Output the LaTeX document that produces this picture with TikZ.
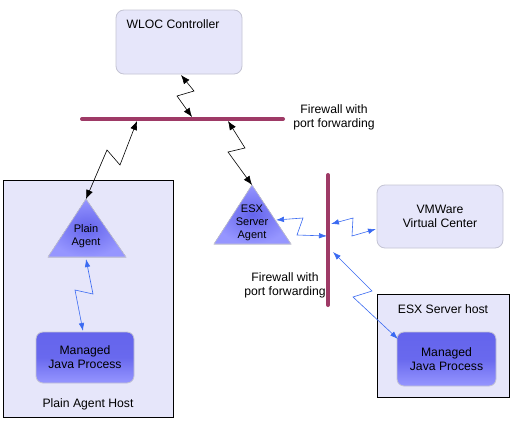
\documentclass[tikz,border=0pt]{standalone}
\usepackage{fontspec}
\setmainfont{Liberation Sans}
\usetikzlibrary{arrows.meta}
\definecolor{fw}{HTML}{9E3A66}
\definecolor{lav}{HTML}{E6E6FA}
\definecolor{boxedge}{HTML}{C4C4D4}
\definecolor{blu}{HTML}{3A6AF2}
\definecolor{tridark}{HTML}{6464EC}
\definecolor{trilight}{HTML}{9696FF}
\tikzset{
  lbl/.style={font=\fontsize{12.2}{14}\selectfont, align=center, inner sep=0pt},
  slbl/.style={font=\fontsize{11}{13}\selectfont, align=center, inner sep=0pt},
  softbox/.style={draw=boxedge, fill=lav, rounded corners=8pt, line width=0.8pt},
  hostbox/.style={draw=black, fill=lav, line width=0.9pt},
  javabox/.style={draw=boxedge, rounded corners=7pt, top color=tridark, bottom color=trilight, middle color=tridark!90!trilight, line width=0.8pt},
  tri/.style={draw=boxedge, inner color=tridark, outer color=trilight, line width=0.6pt},
  firewall/.style={draw=fw, line width=4pt, line cap=round},
  blink/.style={draw=black, line width=0.6pt, {Latex[length=9pt,width=7pt]}-{Latex[length=9pt,width=7pt]}},
  bluelink/.style={draw=blu, line width=0.6pt, {Latex[length=8pt,width=5.5pt]}-{Latex[length=8pt,width=5.5pt]}},
}
\begin{document}
\begin{tikzpicture}[x=1pt,y=-1pt]
\useasboundingbox (0,0) rectangle (528,431);
\fill[white] (0,0) rectangle (528,431);

% WLOC controller
\node[softbox, minimum width=126pt, minimum height=64pt] (wloc) at (179,42) {};
\node[lbl] (wloct) at (173,24) {WLOC Controller};

% top firewall
\coordinate (fw1a) at (82,119);
\coordinate (fw1b) at (283,119);
\draw[firewall] (fw1a) -- (fw1b);
\node[lbl] (fw1t) at (334,117) {Firewall with\\port forwarding};

% Plain Agent Host
\node[hostbox, minimum width=170pt, minimum height=237pt] (pah) at (88,298.5) {};
\node[lbl] (paht) at (88,404) {Plain Agent Host};

% Plain agent triangle
\coordinate (pa) at (86,199);
\fill[tri] (pa) -- (126,257) -- (48,257) -- cycle;
\coordinate (pabot) at (86,259);
\node[slbl] (pat) at (86,236.5) {Plain\\Agent};

% Managed Java Process left
\node[javabox, minimum width=98pt, minimum height=51pt] (mj1) at (85,357.5) {};
\node[lbl] (mj1t) at (85,357) {Managed\\Java Process};

% ESX agent triangle
\coordinate (esx) at (252,185);
\fill[tri] (esx) -- (291,244) -- (214,244) -- cycle;
\node[slbl] (esxt) at (252,223) {ESX\\Server\\Agent};

% vertical firewall
\coordinate (fw2a) at (328,175);
\coordinate (fw2b) at (328,305);
\draw[firewall] (fw2a) -- (fw2b);
\node[lbl] (fw2t) at (285,285) {Firewall with\\port forwarding};

% VMWare
\node[softbox, minimum width=126pt, minimum height=63pt] (vmw) at (440,216.5) {};
\node[lbl] (vmwt) at (440,216) {VMWare\\Virtual Center};

% ESX Server host
\node[hostbox, minimum width=132pt, minimum height=103pt] (esxh) at (443,345.5) {};
\node[lbl] (esxht) at (443,309) {ESX Server host};
\node[javabox, minimum width=99pt, minimum height=54pt] (mj2) at (446.5,359) {};
\node[lbl] (mj2t) at (446.5,359) {Managed\\Java Process};

% black zigzags
\coordinate (w1) at (181,75);
\coordinate (w2) at (192,117);
\draw[blink] (w1) -- (194,91) -- (177,96) -- (w2);
\coordinate (l1) at (137,121);
\draw[blink] (l1) -- (120,165) -- (107,150) -- (pa);
\coordinate (r1) at (228,121);
\draw[blink] (r1) -- (245,148) -- (228,152) -- (esx);

% blue zigzags
\coordinate (pat2) at (83,331);
\draw[bluelink] (pabot) -- (93,294) -- (75,290) -- (pat2);
\coordinate (ea) at (276,220);
\coordinate (eb) at (327,236);
\draw[bluelink] (ea) -- (303,218) -- (297,235) -- (eb);
\coordinate (va) at (331,224);
\coordinate (vb) at (376,229);
\draw[bluelink] (va) -- (353,218) -- (352,236) -- (vb);
\coordinate (ma) at (333,252);
\coordinate (mb) at (398,339);
\draw[bluelink] (ma) -- (372,291) -- (353,297) -- (mb);
\end{tikzpicture}
\end{document}
